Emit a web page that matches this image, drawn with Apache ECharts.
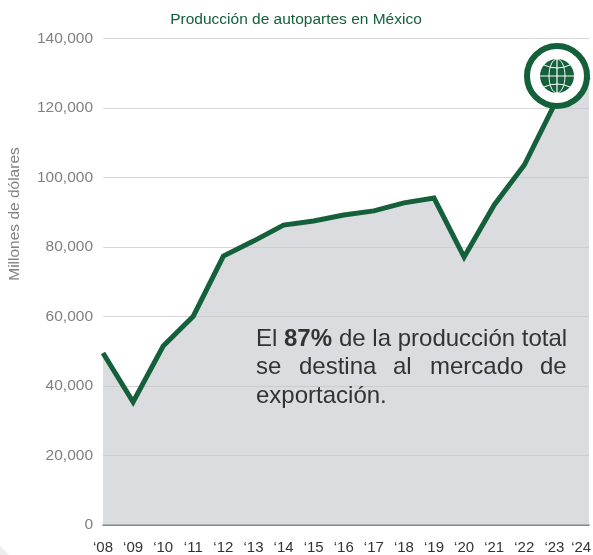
<!DOCTYPE html>
<html lang="es">

<head>
    <meta charset="UTF-8">
    <title>Producción de autopartes en México</title>
    <script src="https://cdn.jsdelivr.net/npm/echarts@6/dist/echarts.min.js"></script>
    <style>
        html, body { margin: 0; padding: 0; background: #fff; }
    </style>
</head>

<body>
    <div id="main" style="width: 593px;height:555px;"></div>

    <script type="text/javascript">
        // last x sits a bit past 2024 because the source stretches the fill to the plot edge
        const years = [2008, 2009, 2010, 2011, 2012, 2013, 2014, 2015, 2016, 2017, 2018, 2019, 2020, 2021, 2022, 2023, 2024.15];
        const values = [49500, 35400, 51500, 60100, 77400, 81700, 86300, 87500, 89200, 90400, 92700, 94100, 77100, 92100, 103600, 121000, 129000];
        const tickLabels = ['‘08', '‘09', '‘10', '‘11', '‘12', '‘13', '‘14', '‘15', '‘16', '‘17', '‘18', '‘19', '‘20', '‘21', '‘22', '‘23', '‘24'];
        const tickPositions = [2008, 2009, 2010, 2011, 2012, 2013, 2014, 2015, 2016, 2017, 2018, 2019, 2020, 2021, 2022, 2023, 2023.89];

        const green = '#14603a';
        const font = '"Liberation Sans", Arial, sans-serif';

        var myChart = echarts.init(document.getElementById('main'));

        function noteText(text, x, y, weight) {
            return {
                type: 'text', x: x, y: y, z: 10,
                style: { text: text, font: (weight || 'normal') + ' 24px ' + font, fill: '#333', textVerticalAlign: 'middle' }
            };
        }

        const option = {
            animation: false,
            backgroundColor: '#fff',
            textStyle: { fontFamily: font },
            title: {
                text: 'Producción de autopartes en México',
                left: 291,
                textAlign: 'center',
                top: 7,
                textStyle: { color: green, fontSize: 15.5, fontWeight: 'normal', fontFamily: font }
            },
            grid: { left: 103, right: 4, top: 38.5, bottom: 30, outerBoundsMode: 'none' },
            xAxis: {
                type: 'value',
                min: 2008,
                max: 2024.15,
                splitLine: { show: false },
                axisTick: { show: false },
                axisLine: { lineStyle: { color: '#6e6e6e', width: 1.5 } },
                axisLabel: {
                    customValues: tickPositions,
                    formatter: function (v) { return tickLabels[tickPositions.indexOf(v)]; },
                    color: '#333',
                    fontSize: 15,
                    margin: 15,
                    hideOverlap: false
                }
            },
            yAxis: {
                type: 'value',
                min: 0,
                max: 140000,
                interval: 20000,
                axisLine: { show: false },
                axisTick: { show: false },
                axisLabel: {
                    color: '#808080',
                    fontSize: 15.5,
                    margin: 10,
                    formatter: function (v) { return v.toLocaleString('en-US'); }
                },
                splitLine: { lineStyle: { color: '#d6d6d6', width: 1 } }
            },
            series: [{
                type: 'line',
                data: years.map((y, i) => [y, values[i]]),
                symbol: 'none',
                lineStyle: { color: green, width: 5, join: 'miter' },
                areaStyle: { color: 'rgb(195,197,202)', opacity: 0.6 }
            }],
            graphic: [
                // faint corner of the page background
                { type: 'polygon', shape: { points: [[0, 546], [9, 555], [0, 555]] }, style: { fill: '#ececec' } },
                // axis title sits above the middle of the axis in the source
                {
                    type: 'text', x: 15, y: 214, rotation: Math.PI / 2,
                    style: { text: 'Millones de dólares', font: '15.5px ' + font, fill: '#808080', textAlign: 'center', textVerticalAlign: 'middle' }
                },
                // badge
                { type: 'circle', z: 20, shape: { cx: 557, cy: 76, r: 30 }, style: { fill: '#fff', stroke: green, lineWidth: 6 } },
                { type: 'circle', z: 21, shape: { cx: 557, cy: 76, r: 17 }, style: { fill: green } },
                { type: 'ellipse', z: 22, shape: { cx: 557, cy: 76, rx: 8, ry: 17 }, style: { fill: 'none', stroke: '#fff', lineWidth: 1 } },
                { type: 'line', z: 22, shape: { x1: 557, y1: 59, x2: 557, y2: 93 }, style: { stroke: '#fff', lineWidth: 1.2 } },
                { type: 'line', z: 22, shape: { x1: 540, y1: 76, x2: 574, y2: 76 }, style: { stroke: '#fff', lineWidth: 1.2 } },
                { type: 'bezierCurve', z: 22, shape: { x1: 544, y1: 65, x2: 570, y2: 65, cpx1: 557, cpy1: 71 }, style: { fill: 'none', stroke: '#fff', lineWidth: 1 } },
                { type: 'bezierCurve', z: 22, shape: { x1: 544, y1: 87, x2: 570, y2: 87, cpx1: 557, cpy1: 81 }, style: { fill: 'none', stroke: '#fff', lineWidth: 1 } },
                // note, second line is justified word by word
                noteText('El', 256, 339),
                noteText('87%', 284, 339, 'bold'),
                noteText('de la producción total', 339, 339),
                noteText('se', 256, 367),
                noteText('destina', 299, 367),
                noteText('al', 393, 367),
                noteText('mercado', 430, 367),
                noteText('de', 540, 367),
                noteText('exportación.', 256, 396)
            ]
        };

        myChart.setOption(option);
    </script>
</body>

</html>
